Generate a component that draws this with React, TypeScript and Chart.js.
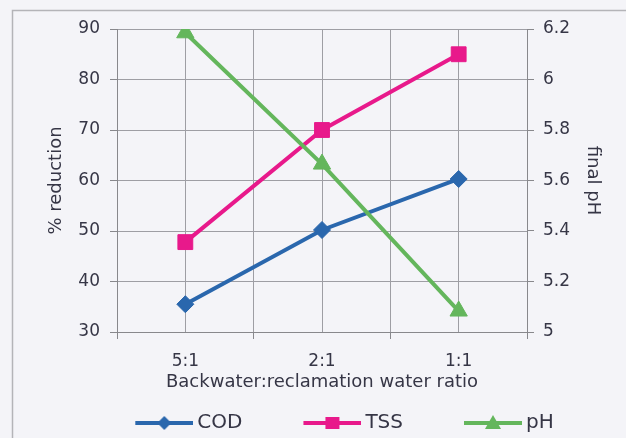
import { useEffect, useRef } from 'react';
import { Chart, registerables } from 'chart.js';

Chart.register(...registerables);

const categories = ['5:1', '2:1', '1:1'];
const seriesNames = ['COD', 'TSS', 'pH'];
const codValues = [35.5, 50.2, 60.3];
const tssValues = [47.8, 70.0, 85.0];
const phValues = [6.185, 5.665, 5.083];
const leftTicks = [30, 40, 50, 60, 70, 80, 90];
const rightTicks = [5, 5.2, 5.4, 5.6, 5.8, 6, 6.2];

const FAMILY = "'DejaVu Sans', Arial, sans-serif";
const TEXT = '#363646';
const GRID = '#9e9ea4';
const AXIS = '#88888c';
const COLORS = ['#2a67ad', '#e8198b', '#64b65c'];
const STYLES = ['rectRot', 'rect', 'triangle'];

function legendImage(color: string, style: string) {
  const c = document.createElement('canvas');
  c.width = 115;
  c.height = 20;
  const g = c.getContext('2d')!;
  g.strokeStyle = color;
  g.fillStyle = color;
  g.lineWidth = 4;
  g.beginPath();
  g.moveTo(57, 10);
  g.lineTo(115, 10);
  g.stroke();
  const cx = 86;
  const cy = 10;
  g.beginPath();
  if (style === 'rectRot') {
    g.moveTo(cx, cy - 7);
    g.lineTo(cx + 7, cy);
    g.lineTo(cx, cy + 7);
    g.lineTo(cx - 7, cy);
    g.closePath();
  } else if (style === 'rect') {
    g.rect(cx - 7, cy - 6, 14, 12);
  } else {
    g.moveTo(cx, cy - 8);
    g.lineTo(cx + 8, cy + 6);
    g.lineTo(cx - 8, cy + 6);
    g.closePath();
  }
  g.fill();
  return c;
}

const backgroundPlugin = {
  id: 'bgFrame',
  beforeDraw(chart: any) {
    const { ctx, width, height } = chart;
    ctx.save();
    ctx.fillStyle = '#f4f4f8';
    ctx.fillRect(0, 0, width, height);
    ctx.strokeStyle = '#b4b4b8';
    ctx.lineWidth = 1.5;
    ctx.beginPath();
    ctx.moveTo(12.5, height);
    ctx.lineTo(12.5, 10.5);
    ctx.lineTo(width, 10.5);
    ctx.stroke();
    ctx.restore();
  },
};

export default function App() {
  const ref = useRef<HTMLCanvasElement>(null);

  useEffect(() => {
    if (!ref.current) return;
    const seriesValues = [codValues, tssValues, phValues];
    const axisIds = ['y', 'y', 'y1'];
    const orders = [3, 2, 1];
    const datasets = seriesNames.map((name, i) => ({
      label: name,
      data: seriesValues[i].map((v, j) => ({ x: j, y: v })),
      yAxisID: axisIds[i],
      borderColor: COLORS[i],
      backgroundColor: COLORS[i],
      borderWidth: 4,
      tension: 0,
      pointStyle: STYLES[i],
      pointRadius: i === 0 ? 8.5 : i === 1 ? 10.5 : 10,
      pointBorderWidth: 1,
      pointBorderColor: COLORS[i],
      pointBackgroundColor: COLORS[i],
      order: orders[i],
    }));

    const tickFont = { family: FAMILY, size: 17 };
    const titleFont = { family: FAMILY, size: 18 };

    const chart = new Chart(ref.current, {
      type: 'line',
      data: { datasets },
      plugins: [backgroundPlugin],
      options: {
        animation: false,
        responsive: true,
        maintainAspectRatio: false,
        layout: { padding: { left: 12, right: 0, top: 29, bottom: -5 } },
        plugins: {
          tooltip: { enabled: false },
          legend: {
            position: 'bottom',
            align: 'center',
            labels: {
              usePointStyle: true,
              pointStyleWidth: 103,
              padding: 10,
              color: TEXT,
              font: { family: FAMILY, size: 20 },
              generateLabels: (ch: any) =>
                ch.data.datasets.map((ds: any, i: number) => ({
                  text: ds.label,
                  pointStyle: legendImage(COLORS[i], STYLES[i]),
                  fillStyle: COLORS[i],
                  strokeStyle: COLORS[i],
                  lineWidth: 0,
                  hidden: false,
                  datasetIndex: i,
                  fontColor: TEXT,
                })),
            },
          },
        },
        scales: {
          x: {
            type: 'linear',
            min: -0.5,
            max: categories.length - 0.5,
            afterFit: (s: any) => {
              s.height = 71;
            },
            ticks: {
              stepSize: 0.5,
              autoSkip: false,
              maxRotation: 0,
              padding: 12,
              color: TEXT,
              font: tickFont,
              callback: (v: any) => (Number.isInteger(v) ? categories[v] ?? '' : ''),
            },
            grid: {
              color: GRID,
              tickLength: 7,
              tickColor: (ctx: any) =>
                ctx.tick && Number.isInteger(ctx.tick.value) ? 'rgba(0,0,0,0)' : AXIS,
            },
            border: { color: AXIS },
            title: {
              display: true,
              text: 'Backwater:reclamation water ratio',
              color: TEXT,
              font: titleFont,
              padding: { top: 0, bottom: 10 },
            },
          },
          y: {
            type: 'linear',
            position: 'left',
            min: leftTicks[0],
            max: leftTicks[leftTicks.length - 1],
            afterBuildTicks: (s: any) => {
              s.ticks = leftTicks.map((v) => ({ value: v }));
            },
            afterFit: (s: any) => {
              s.width = 105;
            },
            ticks: { padding: 10, color: TEXT, font: tickFont },
            grid: { color: GRID, tickLength: 7, tickColor: AXIS },
            border: { color: AXIS },
            title: {
              display: true,
              text: '% reduction',
              color: TEXT,
              font: titleFont,
              padding: { top: 34, bottom: 0 },
            },
          },
          y1: {
            type: 'linear',
            position: 'right',
            min: rightTicks[0],
            max: rightTicks[rightTicks.length - 1],
            afterBuildTicks: (s: any) => {
              s.ticks = rightTicks.map((v) => ({ value: v }));
            },
            afterFit: (s: any) => {
              s.width = 99;
            },
            ticks: {
              padding: 9,
              color: TEXT,
              font: tickFont,
              callback: (v: any) => String(Number(Number(v).toFixed(1))),
            },
            grid: { drawOnChartArea: false, tickLength: 7, color: AXIS },
            border: { color: AXIS },
            title: {
              display: true,
              text: 'final pH',
              color: TEXT,
              font: titleFont,
              padding: { top: 23, bottom: 0 },
            },
          },
        },
      } as any,
    });
    return () => chart.destroy();
  }, []);

  return (
    <div style={{ position: 'fixed', left: 0, top: 0, width: 626, height: 438 }}>
      <canvas ref={ref} />
    </div>
  );
}
